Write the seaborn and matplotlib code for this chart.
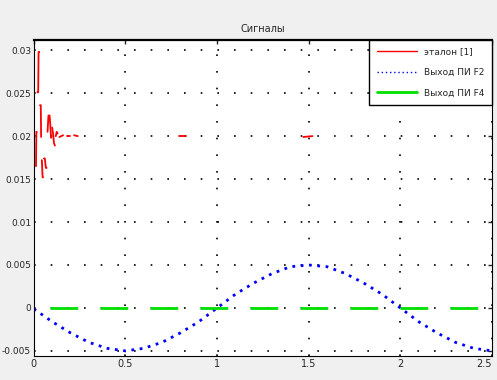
import numpy as np
import pandas as pd
import matplotlib
matplotlib.use("Agg")
import matplotlib.pyplot as plt
import seaborn as sns
from matplotlib.lines import Line2D

# ---- data ----
title_text = "Сигналы"
legend_labels = ["эталон [1]", "Выход ПИ F2", "Выход ПИ F4"]

# red: transient around 0.02, then steady segments
red_t = [0.0, 0.0, 0.012, 0.014, 0.016, 0.02, 0.024, 0.026, 0.03, 0.034, 0.038, 0.04,
         0.044, 0.048, 0.05, 0.055, 0.06, 0.066, 0.07, 0.075, 0.08, 0.086, 0.09, 0.094,
         0.1, 0.105, 0.11, 0.115, 0.12, 0.125, 0.13, 0.14, 0.15, 0.16, 0.18, 0.2, 0.22, 0.24,
         0.79, 0.83, 1.47, 1.52]
red_y = [0.0021, 0.0088, 0.0165, 0.0205, 0.0205, 0.0251, 0.0251, 0.0298, 0.0298, 0.0236, 0.0236, 0.0199,
         0.0172, 0.0152, 0.0152, 0.0174, 0.0174, 0.0163, 0.0163, 0.0205, 0.0224, 0.0224, 0.0213, 0.0198,
         0.0210, 0.0203, 0.0192, 0.0189, 0.0200, 0.0205, 0.0203, 0.0199, 0.0200, 0.0201, 0.0200, 0.0200, 0.0201, 0.0200,
         0.0200, 0.0200, 0.0199, 0.0200]
red_seg = [0, 0, 1, 1, 1, 2, 2, 2, 2, 3, 3, 3,
           4, 4, 4, 5, 5, 5, 5, 6, 6, 6, 6, 6,
           7, 7, 7, 7, 8, 8, 8, 9, 9, 9, 10, 10, 11, 11,
           12, 12, 13, 13]

# blue: slow oscillation
blue_t = [0.0, 0.1, 0.2, 0.3, 0.4, 0.5, 0.6, 0.7, 0.8, 0.9, 1.0, 1.1, 1.2,
          1.3, 1.4, 1.5, 1.6, 1.7, 1.8, 1.9, 2.0, 2.1, 2.2, 2.3, 2.4, 2.5]
blue_y = [-0.0001, -0.0016, -0.0029, -0.0040, -0.0047, -0.0050, -0.0047, -0.0040, -0.0029,
          -0.0016, 0.0000, 0.0016, 0.0029, 0.0040, 0.0048, 0.0050, 0.0048, 0.0040, 0.0029,
          0.0016, 0.0000, -0.0016, -0.0029, -0.0040, -0.0047, -0.0050]

# green: flat at zero
green_t = [0.09, 2.5]
green_y = [0.0, 0.0]

x_ticks = [0, 0.5, 1, 1.5, 2, 2.5]
x_tick_labels = ["0", "0.5", "1", "1.5", "2", "2.5"]
y_ticks = [-0.005, 0, 0.005, 0.01, 0.015, 0.02, 0.025, 0.03]
y_tick_labels = ["-0.005", "0", "0.005", "0.01", "0.015", "0.02", "0.025", "0.03"]

# ---- plotting ----
sns.set_theme(style="white")
plt.rcParams["font.family"] = ["DejaVu Sans"]

fig = plt.figure(figsize=(4.97, 3.80), dpi=100, facecolor="#f0f0f0")
ax = fig.add_axes([0.068, 0.063, 0.922, 0.832])
ax.set_facecolor("white")

red_df = pd.DataFrame({"t": red_t, "y": red_y, "seg": red_seg})
blue_df = pd.DataFrame({"t": blue_t, "y": blue_y})
green_df = pd.DataFrame({"t": green_t, "y": green_y})

sns.lineplot(data=red_df, x="t", y="y", units="seg", estimator=None, sort=False,
             color="#ff0000", lw=1.3, ax=ax, legend=False)
sns.lineplot(data=blue_df, x="t", y="y", estimator=None, color="#0000ff",
             lw=2.0, ax=ax, legend=False)
ax.lines[-1].set_linestyle((0, (1, 2)))
sns.lineplot(data=green_df, x="t", y="y", estimator=None, color="#00e000",
             lw=2.0, ax=ax, legend=False)
ax.lines[-1].set_linestyle((0, (10, 8)))

ax.set_xlim(0, 2.5)
ax.set_ylim(-0.0056, 0.0312)
ax.set_xticks(x_ticks)
ax.set_xticklabels(x_tick_labels, fontsize=7)
ax.get_xticklabels()[-1].set_horizontalalignment("right")
ax.set_yticks(y_ticks)
ax.set_yticklabels(y_tick_labels, fontsize=6.5)
ax.tick_params(direction="in", length=3, width=1, pad=2, top=True, right=True)
ax.set_xlabel("")
ax.set_ylabel("")
ax.grid(True, color="black", linestyle=(0, (1, 9)), linewidth=1.2)

for s in ax.spines.values():
    s.set_color("black")
    s.set_linewidth(0.8)
ax.spines["top"].set_linewidth(1.6)

ax.set_title(title_text, fontsize=7, pad=6)

handles = [Line2D([], [], color="#ff0000", lw=1.0),
           Line2D([], [], color="#0000ff", lw=1.0, linestyle=(0, (1, 2))),
           Line2D([], [], color="#00e000", lw=2.0)]
leg = ax.legend(handles, legend_labels, loc="upper right", fontsize=6.5,
                frameon=True, fancybox=False, borderaxespad=0.0,
                handlelength=4.5, labelspacing=1.3, borderpad=0.8)
leg.get_frame().set_edgecolor("black")
leg.get_frame().set_linewidth(1.0)
leg.get_frame().set_alpha(1.0)

fig.savefig("out.png", dpi=100, facecolor=fig.get_facecolor())
